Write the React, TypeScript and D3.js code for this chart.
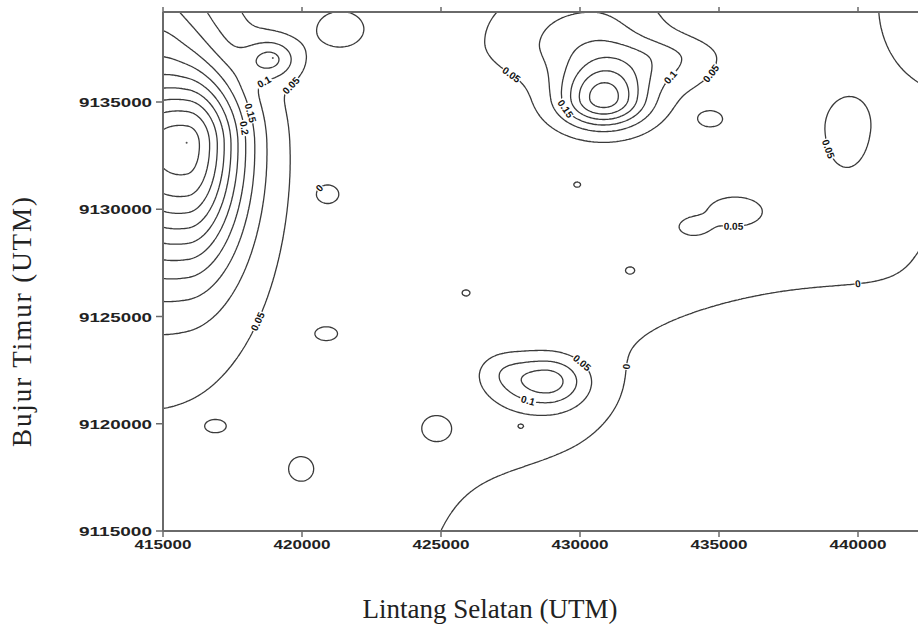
import React, { useEffect, useRef } from "react";
import * as d3 from "d3";

const WIDTH = 918;
const HEIGHT = 628;
const plotLeft = 163;
const plotTop = 12;
const plotRight = 918;
const plotBottom = 531;

const xTickValues = [415000, 420000, 425000, 430000, 435000, 440000];
const yTickValues = [9115000, 9120000, 9125000, 9130000, 9135000];
const contourLevels = [0, 0.05, 0.1, 0.15, 0.2, 0.25, 0.3, 0.35, 0.4, 0.45, 0.5];

// background level between the 0 and 0.05 lines
const baseValue = 0.025;

// anomaly centres (km), their heights, and spreads (km) W / E / S / N
const srcEast = [415.9, 414.5, 414.6, 418.9, 430.85, 430.4, 433.0, 428.8, 427.2, 429.5, 440.0, 445.0, 439.6, 443.5, 435.6, 434.05, 434.7, 421.4, 420.9, 429.9, 425.9, 431.8, 427.87, 420.86, 416.87, 419.96, 424.85];
const srcNorth = [9133.1, 9131.0, 9138.5, 9137.0, 9135.1, 9137.8, 9137.0, 9122.0, 9122.5, 9120.3, 9109.0, 9128.5, 9133.7, 9139.5, 9129.85, 9129.15, 9134.2, 9138.4, 9130.7, 9131.15, 9126.1, 9127.15, 9119.9, 9124.2, 9119.9, 9117.9, 9119.8];
const srcAmp = [0.435, 0.08, 0.12, 0.12, 0.29, 0.1, 0.07, 0.155, 0.03, 0.035, -0.4, -0.03, 0.045, 0.065, 0.05, 0.05, 0.04, 0.045, -0.06, -0.04, -0.04, -0.04, -0.04, -0.06, -0.07, -0.06, -0.06];
const srcSigW = [3.0, 3.0, 1.5, 0.65, 1.1, 2.3, 1.3, 1.15, 0.6, 2.5, 6.8, 2.0, 0.75, 2.0, 1.0, 0.44, 0.45, 0.75, 0.34, 0.12, 0.13, 0.12, 0.13, 0.32, 0.35, 0.33, 0.36];
const srcSigE = [1.4, 2.6, 1.5, 0.65, 1.1, 1.6, 1.3, 0.95, 0.6, 2.0, 9.5, 2.0, 0.75, 2.0, 1.0, 0.44, 0.45, 0.75, 0.34, 0.12, 0.13, 0.12, 0.13, 0.32, 0.35, 0.33, 0.36];
const srcSigS = [3.9, 6.5, 2.0, 0.65, 0.9, 1.3, 1.0, 0.82, 0.6, 2.0, 7.0, 2.0, 1.8, 3.0, 0.7, 0.34, 0.38, 0.75, 0.36, 0.12, 0.13, 0.12, 0.13, 0.25, 0.28, 0.42, 0.4];
const srcSigN = [2.4, 4.5, 3.0, 0.65, 1.2, 1.8, 0.7, 0.8, 0.6, 1.8, 7.4, 2.0, 1.3, 3.0, 0.7, 0.34, 0.38, 0.75, 0.36, 0.12, 0.13, 0.12, 0.13, 0.25, 0.28, 0.42, 0.4];

// sample points drawn as dots at the peaks (km)
const dotEast = [415.85, 418.95];
const dotNorth = [9133.1, 9137.05];

// contour labels: approximate place (km) and level
const labelEast = [418.56, 419.82, 417.88, 417.6, 418.67, 420.57, 427.58, 429.52, 433.3, 434.77, 438.69, 435.52, 431.32, 430.1, 428.23, 440.05];
const labelNorth = [9136.07, 9135.5, 9134.4, 9133.7, 9124.6, 9131.0, 9136.35, 9134.72, 9136.1, 9136.3, 9132.7, 9129.4, 9122.75, 9122.85, 9121.5, 9126.2];
const labelLevel = [0.1, 0.05, 0.15, 0.2, 0.05, 0, 0.05, 0.15, 0.1, 0.05, 0.05, 0.05, 0, 0.05, 0.1, 0];

function field(e: number, n: number) {
	let v = baseValue;
	for (let k = 0; k < srcEast.length; k++) {
		const de = e - srcEast[k];
		const dn = n - srcNorth[k];
		const sx = de < 0 ? srcSigW[k] : srcSigE[k];
		const sy = dn < 0 ? srcSigS[k] : srcSigN[k];
		const q = (de / sx) * (de / sx) + (dn / sy) * (dn / sy);
		if (q < 50) v += srcAmp[k] * Math.exp(-0.5 * q);
	}
	return v;
}

export default function App() {
	const ref = useRef<SVGSVGElement>(null);

	useEffect(() => {
		const svg = d3.select(ref.current);
		svg.selectAll("*").remove();

		const x = d3.scaleLinear().domain([415000, 440000]).range([163, 858]);
		const y = d3.scaleLinear().domain([9115000, 9135000]).range([531, 102]);

		// sample grid in pixel space, a little beyond the frame
		const step = 1.5;
		const gx0 = plotLeft - 4;
		const gy0 = plotTop - 4;
		const nx = Math.ceil((plotRight + 4 - gx0) / step) + 1;
		const ny = Math.ceil((plotBottom + 4 - gy0) / step) + 1;
		const values = new Float64Array(nx * ny);
		for (let j = 0; j < ny; j++) {
			const n = y.invert(gy0 + j * step) / 1000;
			for (let i = 0; i < nx; i++) {
				const e = x.invert(gx0 + i * step) / 1000;
				values[j * nx + i] = field(e, n);
			}
		}
		const contours = d3.contours().size([nx, ny]).thresholds(contourLevels)(values as any);
		const toPx = (p: number[]) => [gx0 + (p[0] - 0.5) * step, gy0 + (p[1] - 0.5) * step];

		svg.append("defs").append("clipPath").attr("id", "plotClip")
			.append("rect")
			.attr("x", plotLeft).attr("y", plotTop)
			.attr("width", plotRight - plotLeft).attr("height", plotBottom - plotTop);

		const lines = svg.append("g").attr("clip-path", "url(#plotClip)");
		const ringsByLevel: number[][][][] = [];
		contours.forEach((c) => {
			const rings: number[][][] = [];
			let d = "";
			c.coordinates.forEach((poly) => {
				poly.forEach((ring) => {
					const pts = ring.map(toPx);
					rings.push(pts);
					d += "M" + pts.map((p) => p[0].toFixed(1) + "," + p[1].toFixed(1)).join("L") + "Z";
				});
			});
			ringsByLevel.push(rings);
			lines.append("path")
				.attr("d", d)
				.attr("fill", "none")
				.attr("stroke", "#3a3a3a")
				.attr("stroke-width", 1.3)
				.attr("stroke-linejoin", "round");
		});

		dotEast.forEach((e, i) => {
			lines.append("circle")
				.attr("cx", x(e * 1000)).attr("cy", y(dotNorth[i] * 1000))
				.attr("r", 1).attr("fill", "#555");
		});

		// contour labels
		const labels = svg.append("g").attr("clip-path", "url(#plotClip)");
		labelLevel.forEach((lev, li) => {
			const idx = contourLevels.indexOf(lev);
			const tx = x(labelEast[li] * 1000);
			const ty = y(labelNorth[li] * 1000);
			let best = Infinity;
			let bp = [tx, ty];
			let ang = 0;
			ringsByLevel[idx].forEach((pts) => {
				for (let k = 0; k < pts.length; k++) {
					const p = pts[k];
					if (p[0] < plotLeft + 1 || p[0] > plotRight - 1 || p[1] < plotTop + 1 || p[1] > plotBottom - 1) continue;
					const dd = (p[0] - tx) ** 2 + (p[1] - ty) ** 2;
					if (dd < best) {
						best = dd;
						bp = p;
						const a = pts[(k - 3 + pts.length) % pts.length];
						const b = pts[(k + 3) % pts.length];
						ang = (Math.atan2(b[1] - a[1], b[0] - a[0]) * 180) / Math.PI;
					}
				}
			});
			if (ang > 90) ang -= 180;
			if (ang < -90) ang += 180;
			const g = labels.append("g").attr("transform", `translate(${bp[0]},${bp[1]}) rotate(${ang})`);
			const label = lev === 0 ? "0" : String(lev);
			const tw = label.length * 4.8;
			g.append("rect")
				.attr("x", -tw / 2 - 1).attr("y", -5)
				.attr("width", tw + 2).attr("height", 10)
				.attr("fill", "#fff");
			g.append("text")
				.attr("text-anchor", "middle")
				.attr("dy", 3.5)
				.attr("font-family", "Liberation Sans, Arial, sans-serif")
				.attr("font-weight", "bold")
				.attr("font-size", 10)
				.attr("fill", "#111")
				.text(label);
		});

		// frame and axes
		const axisColor = "#6a6a6a";
		svg.append("line")
			.attr("x1", plotLeft).attr("x2", plotRight)
			.attr("y1", plotTop).attr("y2", plotTop)
			.attr("stroke", axisColor).attr("stroke-width", 2);
		svg.append("line")
			.attr("x1", plotLeft).attr("x2", plotRight)
			.attr("y1", plotBottom).attr("y2", plotBottom)
			.attr("stroke", axisColor).attr("stroke-width", 2);
		svg.append("line")
			.attr("x1", plotLeft).attr("x2", plotLeft)
			.attr("y1", plotTop).attr("y2", plotBottom)
			.attr("stroke", axisColor).attr("stroke-width", 2);

		const tickFont = "Liberation Sans, Arial, sans-serif";
		xTickValues.forEach((t) => {
			const px = x(t);
			svg.append("line")
				.attr("x1", px).attr("x2", px)
				.attr("y1", plotBottom).attr("y2", plotBottom + 6)
				.attr("stroke", axisColor).attr("stroke-width", 1.5);
			svg.append("line")
				.attr("x1", px).attr("x2", px)
				.attr("y1", plotTop).attr("y2", plotTop - 5)
				.attr("stroke", axisColor).attr("stroke-width", 1.5);
			svg.append("text")
				.attr("x", px).attr("y", plotBottom + 18)
				.attr("text-anchor", "middle")
				.attr("font-family", tickFont)
				.attr("font-weight", "bold")
				.attr("font-size", 13)
				.attr("textLength", 57)
				.attr("lengthAdjust", "spacingAndGlyphs")
				.attr("fill", "#222")
				.text(String(t));
		});
		yTickValues.forEach((t) => {
			const py = y(t);
			svg.append("line")
				.attr("x1", plotLeft - 7).attr("x2", plotLeft)
				.attr("y1", py).attr("y2", py)
				.attr("stroke", axisColor).attr("stroke-width", 1.5);
			svg.append("text")
				.attr("x", plotLeft - 11).attr("y", py + 5)
				.attr("text-anchor", "end")
				.attr("font-family", tickFont)
				.attr("font-weight", "bold")
				.attr("font-size", 13)
				.attr("textLength", 73)
				.attr("lengthAdjust", "spacingAndGlyphs")
				.attr("fill", "#222")
				.text(String(t));
		});

		svg.append("text")
			.attr("x", 490).attr("y", 618)
			.attr("text-anchor", "middle")
			.attr("font-family", "Liberation Serif, Times New Roman, serif")
			.attr("font-size", 27)
			.attr("fill", "#222")
			.text("Lintang Selatan (UTM)");
		svg.append("text")
			.attr("transform", "translate(31,322) rotate(-90)")
			.attr("text-anchor", "middle")
			.attr("font-family", "Liberation Serif, Times New Roman, serif")
			.attr("font-size", 27)
			.attr("textLength", 250)
			.attr("lengthAdjust", "spacing")
			.attr("fill", "#222")
			.text("Bujur Timur (UTM)");
	}, []);

	return (
		<div style={{ position: "absolute", left: 0, top: 0 }}>
			<svg ref={ref} width={WIDTH} height={HEIGHT} style={{ display: "block", background: "#fff" }}></svg>
		</div>
	);
}
